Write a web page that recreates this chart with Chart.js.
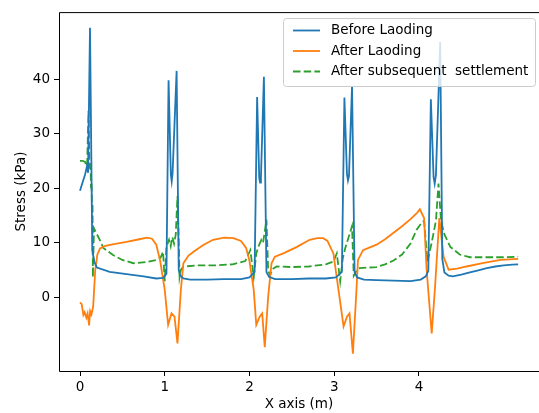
<!DOCTYPE html>
<html>
<head>
<meta charset="utf-8">
<script src="https://cdn.jsdelivr.net/npm/chart.js@4.4.1/dist/chart.umd.min.js"></script>
<style>
  html, body { margin: 0; padding: 0; background: #fff; }
</style>
</head>
<body>
<canvas id="chart" width="539" height="413"></canvas>
<script>
const xTicks = [0, 1, 2, 3, 4];
const yTicks = [0, 10, 20, 30, 40];
const seriesNames = ['Before Laoding', 'After Laoding', 'After subsequent  settlement'];

// Before Laoding
const beforeX = [0, 0.03, 0.06, 0.085, 0.095, 0.118, 0.145, 0.17, 0.2, 0.35, 0.55, 0.75, 0.9, 0.98,
  1.02, 1.045, 1.072, 1.082, 1.092, 1.14, 1.165, 1.185, 1.22, 1.3, 1.5, 1.7, 1.9, 2.0,
  2.06, 2.09, 2.115, 2.125, 2.135, 2.17, 2.2, 2.23, 2.3, 2.5, 2.7, 2.9, 3.02,
  3.09, 3.12, 3.15, 3.162, 3.174, 3.21, 3.24, 3.27, 3.35, 3.5, 3.7, 3.9, 4.02,
  4.08, 4.11, 4.14, 4.172, 4.185, 4.2, 4.25, 4.275, 4.3, 4.35, 4.4, 4.5, 4.6, 4.7, 4.8, 4.9, 5.0, 5.1, 5.17];
const beforeY = [19.5, 21.0, 22.5, 24.2, 22.8, 49.4, 8.6, 6.4, 5.4, 4.6, 4.2, 3.8, 3.4, 3.5,
  4.3, 39.8, 22.5, 21.2, 22.6, 41.5, 5.0, 3.9, 3.4, 3.2, 3.2, 3.3, 3.3, 3.6,
  4.6, 36.7, 21.8, 21.0, 22.0, 40.4, 4.6, 3.7, 3.3, 3.3, 3.4, 3.4, 3.6,
  4.6, 36.6, 22.6, 21.4, 22.2, 38.7, 4.6, 3.6, 3.2, 3.1, 3.0, 2.9, 3.2,
  3.8, 4.8, 36.3, 22.0, 20.8, 22.4, 46.8, 7.0, 4.5, 3.9, 3.8, 4.1, 4.5, 4.9, 5.3, 5.6, 5.8, 5.95, 6.0];

// After Laoding
const afterX = [0, 0.02, 0.04, 0.055, 0.075, 0.09, 0.107, 0.12, 0.135, 0.155, 0.18, 0.205, 0.236, 0.3, 0.4, 0.55, 0.7, 0.79, 0.85, 0.9, 0.944,
  1.0, 1.04, 1.08, 1.115, 1.15, 1.19, 1.22, 1.28, 1.34, 1.45, 1.57, 1.7, 1.81, 1.9, 1.96,
  2.0, 2.05, 2.08, 2.12, 2.15, 2.18, 2.22, 2.26, 2.3, 2.4, 2.56, 2.71, 2.8, 2.87, 2.92, 2.99,
  3.05, 3.11, 3.15, 3.18, 3.22, 3.26, 3.28, 3.34, 3.42, 3.5, 3.6, 3.7, 3.8, 3.9, 3.98,
  4.01, 4.06, 4.09, 4.15, 4.19, 4.24, 4.29, 4.35, 4.45, 4.56, 4.75, 4.96, 5.17];
const afterY = [-1.0, -1.3, -3.3, -2.8, -3.8, -3.0, -5.2, -2.6, -3.2, -1.8, 5.0, 7.8, 8.9, 9.4, 9.7, 10.1, 10.6, 10.9, 10.7, 9.6, 6.8,
  1.3, -5.1, -3.0, -3.6, -8.5, 1.3, 6.2, 7.6, 8.3, 9.5, 10.5, 10.9, 10.8, 10.3, 9.0,
  6.6, 1.3, -5.1, -3.6, -3.0, -9.2, 0.0, 6.2, 7.4, 8.0, 9.2, 10.5, 10.8, 10.8, 10.3, 8.0,
  1.3, -5.4, -3.6, -3.0, -10.4, 0.7, 6.8, 8.6, 9.1, 9.6, 10.6, 11.8, 13.0, 14.3, 15.5,
  16.1, 14.5, 5.0, -6.7, 2.0, 14.5, 7.4, 5.0, 5.2, 5.6, 6.2, 6.8, 7.0];

// After subsequent settlement
const settleX = [0, 0.03, 0.06, 0.075, 0.085, 0.1, 0.11, 0.118, 0.124, 0.13, 0.136, 0.142, 0.148, 0.152, 0.165, 0.19, 0.236, 0.275, 0.39, 0.5, 0.63, 0.78, 0.9, 0.95, 0.98,
  1.0, 1.02, 1.05, 1.07, 1.09, 1.11, 1.13, 1.15, 1.162, 1.175, 1.19, 1.22, 1.4, 1.6, 1.8, 1.95,
  2.01, 2.05, 2.08, 2.1, 2.12, 2.14, 2.16, 2.18, 2.2, 2.22, 2.24, 2.28, 2.32, 2.5, 2.7, 2.9, 2.99,
  3.03, 3.07, 3.1, 3.13, 3.15, 3.17, 3.19, 3.21, 3.23, 3.27, 3.3, 3.5, 3.6, 3.7, 3.8, 3.9, 3.97,
  4.03, 4.06, 4.1, 4.15, 4.2, 4.23, 4.26, 4.3, 4.37, 4.48, 4.6, 4.8, 5.0, 5.17];
const settleY = [25.0, 25.0, 24.8, 24.0, 24.6, 34.2, 25.5, 23.5, 24.5, 20.0, 21.0, 16.0, 17.0, 3.6, 12.6, 11.8, 10.4, 9.0, 7.7, 6.8, 6.2, 6.4, 6.8, 7.2, 8.3,
  2.9, 9.2, 10.5, 9.3, 11.0, 9.8, 11.5, 18.5, 12.0, 3.7, 5.0, 5.6, 5.8, 5.8, 6.0, 6.6,
  8.6, 3.7, 8.0, 9.0, 9.8, 10.5, 10.0, 12.0, 14.2, 5.0, 4.0, 5.2, 5.6, 5.5, 5.6, 6.0, 6.5,
  8.0, 2.9, 7.0, 9.0, 10.0, 11.0, 12.0, 13.0, 3.9, 5.0, 5.3, 5.5, 6.0, 6.7, 7.8, 9.8, 12.3,
  13.6, 14.0, 6.5, 10.0, 14.0, 20.8, 14.0, 11.5, 9.2, 7.8, 7.3, 7.3, 7.3, 7.4];

const colors = { blue: '#1f77b4', orange: '#ff7f0e', green: '#2ca02c' };
const FONT = 'DejaVu Sans';
const FONT_SIZE = 13.5;
const LINE_W = 1.8;

function toPoints(xs, ys) {
    return xs.map((x, i) => ({ x: x, y: ys[i] }));
}

// frame (right spine is cut off in the picture) + legend box
const frameAndLegend = {
    id: 'frameAndLegend',
    afterDraw(chart) {
        const { ctx, chartArea: a } = chart;
        ctx.save();
        ctx.strokeStyle = '#000';
        ctx.lineWidth = 1;
        ctx.beginPath();
        ctx.moveTo(a.right + 5, a.top + 0.5);
        ctx.lineTo(a.left + 0.5, a.top + 0.5);
        ctx.lineTo(a.left + 0.5, a.bottom + 0.5);
        ctx.lineTo(a.right + 5, a.bottom + 0.5);
        ctx.stroke();

        // legend
        const bx = 283, by = 18, bw = 252, bh = 68, r = 3;
        ctx.beginPath();
        ctx.roundRect(bx + 0.5, by + 0.5, bw, bh, r);
        ctx.fillStyle = 'rgba(255,255,255,0.8)';
        ctx.fill();
        ctx.strokeStyle = '#cccccc';
        ctx.stroke();

        const styles = [
            { color: colors.blue, dash: [] },
            { color: colors.orange, dash: [] },
            { color: colors.green, dash: [7.5, 3.2] }
        ];
        ctx.font = FONT_SIZE + 'px "' + FONT + '"';
        ctx.textBaseline = 'middle';
        ctx.textAlign = 'left';
        seriesNames.forEach((name, i) => {
            const y = by + 12.5 + i * 20.5;
            ctx.beginPath();
            ctx.setLineDash(styles[i].dash);
            ctx.strokeStyle = styles[i].color;
            ctx.lineWidth = LINE_W;
            ctx.moveTo(293, y);
            ctx.lineTo(320, y);
            ctx.stroke();
            ctx.setLineDash([]);
            ctx.fillStyle = '#000';
            ctx.fillText(name, 331, y);
        });
        ctx.restore();
    }
};

const ctx = document.getElementById('chart').getContext('2d');
new Chart(ctx, {
    type: 'line',
    data: {
        datasets: [
            { label: seriesNames[0], data: toPoints(beforeX, beforeY), borderColor: colors.blue, borderWidth: LINE_W, pointRadius: 0, tension: 0, fill: false },
            { label: seriesNames[1], data: toPoints(afterX, afterY), borderColor: colors.orange, borderWidth: LINE_W, pointRadius: 0, tension: 0, fill: false },
            { label: seriesNames[2], data: toPoints(settleX, settleY), borderColor: colors.green, borderWidth: LINE_W, borderDash: [7.5, 3.2], pointRadius: 0, tension: 0, fill: false }
        ]
    },
    options: {
        responsive: false,
        animation: false,
        layout: { padding: { top: 12, right: 0, left: 0, bottom: 0 } },
        plugins: {
            legend: { display: false },
            tooltip: { enabled: false }
        },
        scales: {
            x: {
                type: 'linear',
                min: -0.2478,
                max: 5.416,
                afterBuildTicks: s => { s.ticks = xTicks.map(v => ({ value: v })); },
                afterFit: s => { s.height = 42; },
                border: { display: false },
                grid: { drawOnChartArea: false, drawTicks: true, tickLength: 5, color: '#000' },
                ticks: { color: '#000', padding: 3, maxRotation: 0, font: { family: FONT, size: FONT_SIZE }, callback: v => String(v) },
                title: { display: true, text: 'X axis (m)', color: '#000', padding: { top: 0, bottom: 0 }, font: { family: FONT, size: FONT_SIZE } }
            },
            y: {
                type: 'linear',
                min: -13.58,
                max: 52.29,
                afterBuildTicks: s => { s.ticks = yTicks.map(v => ({ value: v })); },
                afterFit: s => { s.width = 59; },
                border: { display: false },
                grid: { drawOnChartArea: false, drawTicks: true, tickLength: 5, color: '#000' },
                ticks: { color: '#000', padding: 4, font: { family: FONT, size: FONT_SIZE }, callback: v => String(v) },
                title: { display: true, text: 'Stress (kPa)', color: '#000', padding: { top: 13, bottom: 0 }, font: { family: FONT, size: FONT_SIZE } }
            }
        }
    },
    plugins: [frameAndLegend]
});
</script>
</body>
</html>
